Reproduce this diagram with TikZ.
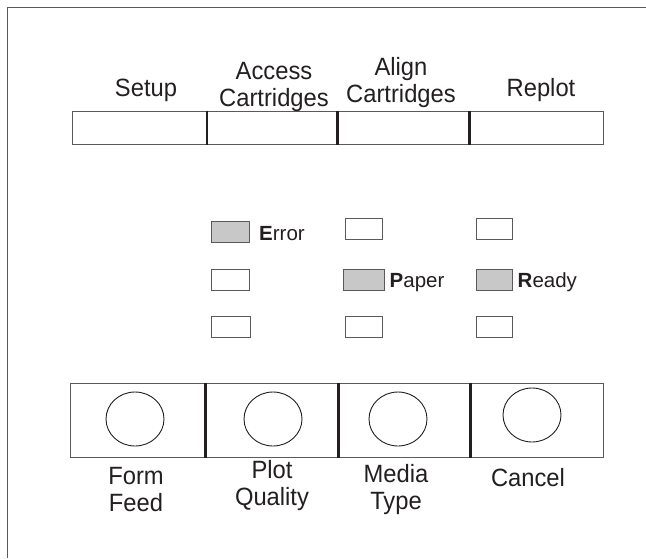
\documentclass[tikz,border=0pt]{standalone}
\usepackage{fontspec}
\setmainfont{Liberation Sans}
\usepackage{graphicx}
\usetikzlibrary{shapes.geometric}
\definecolor{ledgray}{HTML}{C8C8C8}
\definecolor{framegray}{HTML}{5A5A5A}
\definecolor{inkc}{HTML}{231F20}
\newcommand{\nrw}[1]{\scalebox{0.95}[1]{#1}}
\begin{document}
\begin{tikzpicture}[x=1pt,y=-1pt,
  keybox/.style={draw=framegray,line width=1pt,rectangle,inner sep=0pt,minimum height=33pt},
  padbox/.style={draw=framegray,line width=1pt,rectangle,inner sep=0pt,minimum height=74pt},
  divider/.style={draw=inkc,line width=2.2pt},
  knob/.style={draw=inkc,line width=0.9pt,ellipse,inner sep=0pt,minimum width=58pt,minimum height=54pt},
  led/.style={draw=framegray,line width=1pt,rectangle,inner sep=0pt,minimum width=38pt,minimum height=21pt,fill=white},
  ledon/.style={led,fill=ledgray},
  lab/.style={inner sep=0pt,align=center,text=inkc,font=\fontsize{25}{27}\selectfont},
  ledlab/.style={inner sep=0pt,anchor=west,text=inkc,font=\fontsize{20.5}{21}\selectfont}]
\useasboundingbox (0,0) rectangle (646,558);
% outer frame (partly shown)
\draw[framegray,line width=1.6pt] (7.5,558) -- (7.5,7.5) -- (646,7.5);
% top key row
\node[keybox,minimum width=134.5pt] (k1) at (139.25,127.5) {};
\node[keybox,minimum width=130.5pt] (k2) at (271.75,127.5) {};
\node[keybox,minimum width=132pt] (k3) at (403,127.5) {};
\node[keybox,minimum width=134pt] (k4) at (536,127.5) {};
\draw[divider] (k1.north east) -- (k1.south east);
\draw[divider] (k2.north east) -- (k2.south east);
\draw[divider] (k3.north east) -- (k3.south east);
% top labels
\node[lab] (t1) at (146,90) {\nrw{Setup}};
\node[lab] (t2) at (274,86.5) {\nrw{Access}\\\nrw{Cartridges}};
\node[lab] (t3) at (401,82.5) {\nrw{Align}\\\nrw{Cartridges}};
\node[lab] (t4) at (541,90) {\nrw{Replot}};
% LEDs
\node[ledon] (l11) at (230.5,231.5) {};
\node[led,minimum width=37pt] (l12) at (363.5,229) {};
\node[led,minimum width=36pt] (l13) at (494,229) {};
\node[led] (l21) at (230.5,279.5) {};
\node[ledon,minimum width=41pt] (l22) at (364,279.5) {};
\node[ledon,minimum width=36pt] (l23) at (494,279.5) {};
\node[led,minimum width=39pt] (l31) at (231,326.5) {};
\node[led,minimum width=37pt] (l32) at (364,326.5) {};
\node[led,minimum width=36pt] (l33) at (494,326.5) {};
\node[ledlab] (e) at (259,234) {\textbf{E}rror};
\node[ledlab] (p) at (389.5,283) {\textbf{P}aper};
\node[ledlab] (r) at (517.5,282) {\textbf{R}eady};
% bottom pad row
\node[padbox,minimum width=135pt] (p1) at (137.5,420) {};
\node[padbox,minimum width=133pt] (p2) at (271.5,420) {};
\node[padbox,minimum width=132pt] (p3) at (404,420) {};
\node[padbox,minimum width=133pt] (p4) at (536.5,420) {};
\draw[divider] (p1.north east) -- (p1.south east);
\draw[divider] (p2.north east) -- (p2.south east);
\draw[divider] (p3.north east) -- (p3.south east);
\node[knob] (c1) at (135,419) {};
\node[knob] (c2) at (273,419) {};
\node[knob] (c3) at (398,419) {};
\node[knob] (c4) at (532,415) {};
% bottom labels
\node[lab] (b1) at (136,490) {\nrw{Form}\\\nrw{Feed}};
\node[lab] (b2) at (272,485.5) {\nrw{Plot}\\\nrw{Quality}};
\node[lab] (b3) at (396,490) {\nrw{Media}\\\nrw{Type}};
\node[lab] (b4) at (528,478) {\nrw{Cancel}};
\end{tikzpicture}
\end{document}
